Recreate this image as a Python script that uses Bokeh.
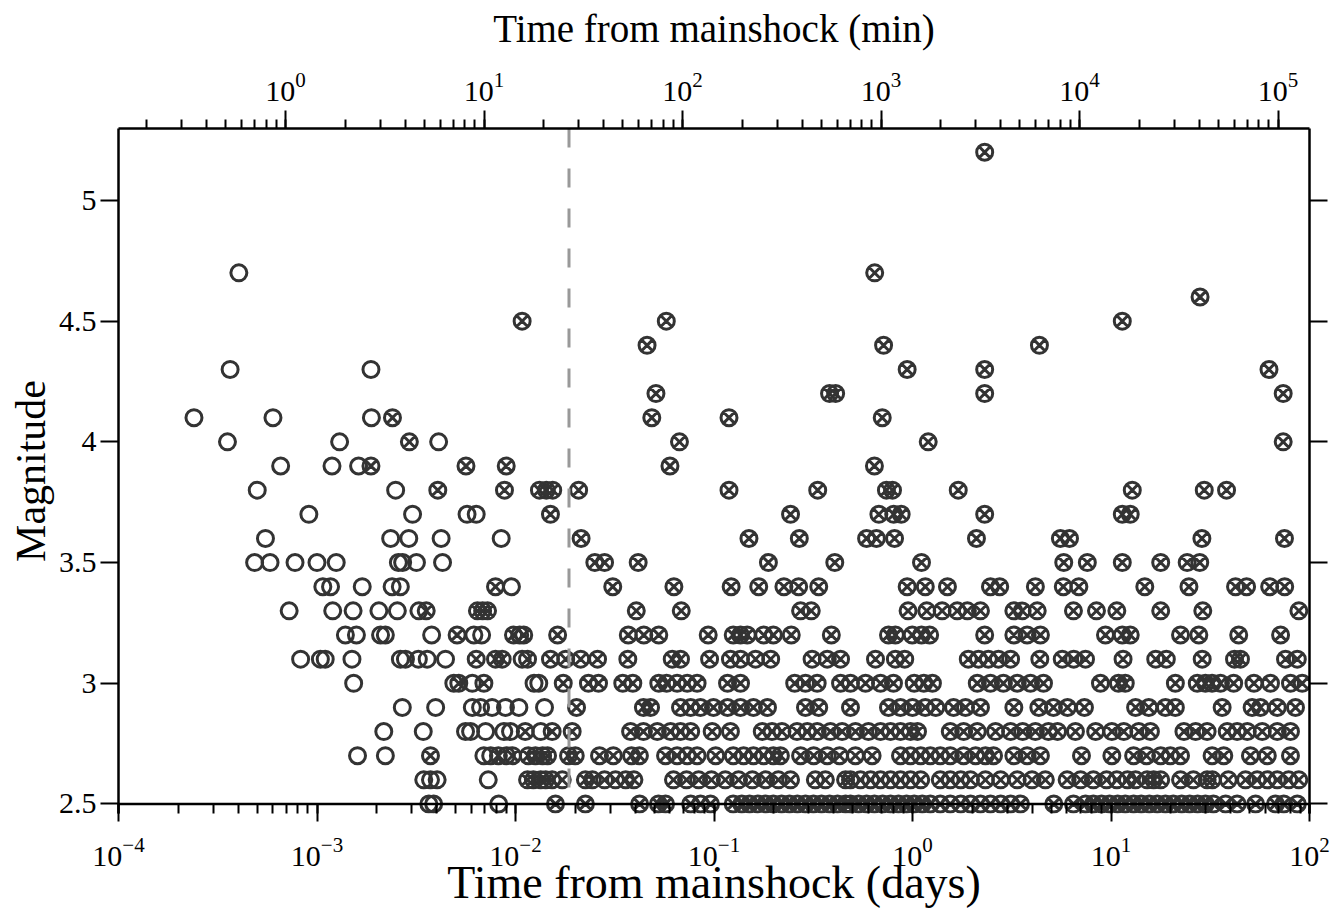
from bokeh.plotting import figure
from bokeh.models import (Range1d, LogScale, LogAxis, LinearAxis, FixedTicker,
                          LogTicker, CustomJSTickFormatter, Span)
from bokeh.embed import file_html
from bokeh.resources import INLINE

# ---------------- data (time in days, magnitude) ----------------
# open circles, by magnitude level
OPEN_47 = [4.04e-4]
OPEN_43 = [3.65e-4, 1.87e-3]
OPEN_41 = [2.4e-4, 6.0e-4, 1.88e-3]
OPEN_40 = [3.54e-4, 1.3e-3, 4.1e-3]
OPEN_39 = [6.56e-4, 1.19e-3, 1.62e-3]
OPEN_38 = [5.0e-4, 2.49e-3]
OPEN_37 = [9.1e-4, 3.03e-3, 5.7e-3, 6.34e-3]
OPEN_36 = [5.5e-4, 2.35e-3, 2.9e-3, 4.22e-3, 8.47e-3]
OPEN_35 = [4.85e-4, 5.8e-4, 7.75e-4, 1.0e-3, 1.25e-3, 2.57e-3, 2.7e-3, 3.17e-3, 4.29e-3]
OPEN_34 = [1.07e-3, 1.17e-3, 1.69e-3, 2.39e-3, 2.63e-3, 9.54e-3]
OPEN_33 = [7.24e-4, 1.2e-3, 1.52e-3, 2.05e-3, 2.54e-3, 3.26e-3]
OPEN_32 = [1.39e-3, 1.58e-3, 2.09e-3, 2.21e-3, 3.78e-3, 6.17e-3, 6.75e-3, 1.05e-2]
OPEN_31 = [8.27e-4, 1.04e-3, 1.10e-3, 1.50e-3, 2.63e-3, 2.79e-3, 3.24e-3, 3.59e-3,
           4.44e-3, 1.08e-2]
OPEN_30 = [1.53e-3, 4.89e-3, 6.06e-3, 1.24e-2, 1.31e-2]
OPEN_29 = [2.69e-3, 3.96e-3, 6.06e-3, 6.67e-3, 7.62e-3, 8.9e-3, 1.04e-2, 1.4e-2]
OPEN_28 = [2.17e-3, 3.43e-3, 5.6e-3, 5.94e-3, 7.07e-3, 8.73e-3, 9.44e-3, 1.34e-2]
OPEN_27 = [1.6e-3, 2.21e-3, 6.93e-3, 7.5e-3, 9.0e-3]
OPEN_26 = [3.45e-3, 3.73e-3, 4.03e-3, 7.29e-3]
OPEN_25 = [3.66e-3, 3.87e-3, 8.23e-3]

# crossed circles, by magnitude level
CROSS_52 = [2.31]
CROSS_47 = [0.645]
CROSS_46 = [28.1]
CROSS_45 = [0.0108, 0.0575, 11.4]
CROSS_44 = [0.046, 0.715, 4.36]
CROSS_43 = [0.94, 2.31, 62.5]
CROSS_42 = [0.051, 0.382, 0.41, 2.31, 73.7]
CROSS_41 = [2.4e-3, 0.0486, 0.119, 0.704]
CROSS_40 = [2.92e-3, 0.067, 1.2, 73.7]
CROSS_39 = [1.87e-3, 5.63e-3, 8.98e-3, 0.060, 0.643]
CROSS_38 = [4.06e-3, 8.8e-3, 0.0132, 0.0143, 0.0154, 0.0208, 0.119, 0.333, 0.739,
            0.793, 1.70, 12.8, 29.5, 38.2]
CROSS_37 = [0.015, 0.243, 0.677, 0.804, 0.877, 2.31, 11.4, 12.5]
CROSS_36 = [0.0214, 0.150, 0.269, 0.587, 0.658, 0.812, 2.10, 5.56, 6.18, 28.7, 74.8]
CROSS_35 = [0.0251, 0.0281, 0.0415, 0.188, 0.406, 1.11, 5.78, 7.6, 11.4, 17.8, 24.2,
            28.0]
CROSS_34 = [7.93e-3, 0.0309, 0.0628, 0.122, 0.168, 0.225, 0.267, 0.337, 0.94, 1.16,
            1.50, 2.47, 2.75, 4.16, 5.75, 6.89, 14.8, 24.7, 42.4, 48.2, 63.0, 75.0]
CROSS_33 = [3.55e-3, 6.43e-3, 6.83e-3, 7.23e-3, 0.0406, 0.0684, 0.273, 0.309, 0.95,
            1.18, 1.41, 1.68, 1.89, 2.20, 3.24, 3.57, 4.25, 6.47, 8.45, 10.7, 17.8,
            29.0, 88.4]
CROSS_32 = [5.08e-3, 9.77e-3, 0.011, 0.0163, 0.037, 0.0443, 0.0527, 0.0935, 0.125,
            0.136, 0.147, 0.178, 0.199, 0.245, 0.390, 0.757, 0.820, 0.997, 1.11, 1.22,
            2.31, 3.24, 3.78, 4.41, 9.38, 11.4, 12.5, 22.4, 27.7, 44.0, 71.5]
CROSS_31 = [6.34e-3, 7.93e-3, 8.57e-3, 0.0115, 0.015, 0.0179, 0.0213, 0.0259, 0.0368,
            0.0616, 0.0678, 0.095, 0.121, 0.136, 0.162, 0.193, 0.312, 0.372, 0.434,
            0.651, 0.82, 0.914, 1.91, 2.15, 2.41, 2.71, 3.12, 4.38, 5.68, 6.49, 7.44,
            11.5, 16.8, 19.0, 28.8, 41.9, 44.9, 75.7, 86.8]
CROSS_30 = [5.18e-3, 6.93e-3, 0.0174, 0.0233, 0.0262, 0.0347, 0.039, 0.0527, 0.0577,
            0.0652, 0.0733, 0.0822, 0.117, 0.136, 0.255, 0.289, 0.331, 0.434, 0.487,
            0.580, 0.690, 0.802, 1.02, 1.14, 1.26, 2.12, 2.47, 2.87, 3.37, 3.93, 4.57,
            8.85, 10.9, 11.8, 21.1, 27.2, 29.9, 32.3, 35.6, 41.5, 52.5, 63.6, 80.2,
            91.9]
CROSS_29 = [0.0203, 0.0441, 0.0479, 0.0678, 0.0763, 0.0855, 0.0994, 0.117, 0.136,
            0.158, 0.186, 0.289, 0.337, 0.487, 0.757, 0.870, 1.00, 1.16, 1.31, 1.61,
            1.85, 2.20, 3.24, 4.33, 5.13, 6.04, 7.35, 13.3, 15.5, 18.8, 21.1, 36.3,
            51.4, 56.6, 68.8, 85.0]
CROSS_28 = [0.0112, 0.0153, 0.0193, 0.038, 0.0441, 0.0518, 0.0604, 0.0678, 0.0763,
            0.0979, 0.121, 0.175, 0.196, 0.220, 0.262, 0.295, 0.331, 0.386, 0.442,
            0.516, 0.600, 0.690, 0.775, 0.870, 0.977, 1.06, 1.55, 1.81, 2.12, 2.62,
            3.12, 3.59, 4.16, 4.84, 5.38, 6.62, 8.37, 10.1, 11.6, 13.8, 15.8, 23.3,
            26.7, 30.5, 38.5, 43.2, 48.6, 57.8, 68.8, 80.2]
CROSS_27 = [3.73e-3, 8.2e-3, 9.66e-3, 0.0116, 0.0126, 0.0137, 0.0145, 0.0185, 0.020,
            0.0265, 0.0311, 0.0384, 0.0421, 0.057, 0.0652, 0.0733, 0.0822, 0.102,
            0.125, 0.141, 0.158, 0.178, 0.199, 0.216, 0.273, 0.318, 0.372, 0.429,
            0.516, 0.626, 0.870, 0.977, 1.10, 1.23, 1.38, 1.55, 1.81, 2.08, 2.33,
            2.56, 3.24, 3.78, 4.41, 7.10, 10.1, 13.0, 15.1, 17.8, 19.9, 22.4, 32.3,
            37.0, 50.4, 61.3, 80.2]
CROSS_26 = [0.0115, 0.0123, 0.0134, 0.0142, 0.0153, 0.0172, 0.0225, 0.0244, 0.0281,
            0.0319, 0.0359, 0.0395, 0.0625, 0.0727, 0.0837, 0.0971, 0.114, 0.133,
            0.156, 0.182, 0.211, 0.243, 0.324, 0.364, 0.460, 0.487, 0.547, 0.615,
            0.690, 0.775, 0.870, 0.977, 1.10, 1.38, 1.55, 1.75, 1.96, 2.33, 2.78,
            3.37, 4.00, 4.67, 6.01, 7.03, 8.15, 9.50, 10.7, 12.1, 13.3, 15.2, 16.4,
            17.8, 22.4, 26.0, 30.5, 32.4, 39.0, 47.6, 54.5, 61.3, 68.8, 78.5, 88.4]
CROSS_25 = [0.0159, 0.0225, 0.0422, 0.0525, 0.057, 0.0763, 0.0855, 0.096, 0.125,
            0.138, 0.151, 0.166, 0.182, 0.199, 0.219, 0.240, 0.263, 0.289, 0.317,
            0.348, 0.382, 0.419, 0.460, 0.487, 0.535, 0.587, 0.643, 0.707, 0.775,
            0.850, 0.933, 1.02, 1.12, 1.23, 1.38, 1.55, 1.75, 1.96, 2.20, 2.47, 2.78,
            3.12, 3.50, 5.15, 6.47, 7.44, 8.15, 8.96, 9.83, 10.8, 11.8, 13.0, 14.2,
            15.6, 17.1, 18.8, 20.6, 22.7, 24.9, 27.3, 29.9, 32.8, 37.8, 43.2, 53.5,
            67.4, 74.2, 86.8]

OPEN_ROWS = [(4.7, OPEN_47), (4.3, OPEN_43), (4.1, OPEN_41), (4.0, OPEN_40),
             (3.9, OPEN_39), (3.8, OPEN_38), (3.7, OPEN_37), (3.6, OPEN_36),
             (3.5, OPEN_35), (3.4, OPEN_34), (3.3, OPEN_33), (3.2, OPEN_32),
             (3.1, OPEN_31), (3.0, OPEN_30), (2.9, OPEN_29), (2.8, OPEN_28),
             (2.7, OPEN_27), (2.6, OPEN_26), (2.5, OPEN_25)]
CROSS_ROWS = [(5.2, CROSS_52), (4.7, CROSS_47), (4.6, CROSS_46), (4.5, CROSS_45),
              (4.4, CROSS_44), (4.3, CROSS_43), (4.2, CROSS_42), (4.1, CROSS_41),
              (4.0, CROSS_40), (3.9, CROSS_39), (3.8, CROSS_38), (3.7, CROSS_37),
              (3.6, CROSS_36), (3.5, CROSS_35), (3.4, CROSS_34), (3.3, CROSS_33),
              (3.2, CROSS_32), (3.1, CROSS_31), (3.0, CROSS_30), (2.9, CROSS_29),
              (2.8, CROSS_28), (2.7, CROSS_27), (2.6, CROSS_26), (2.5, CROSS_25)]

MAG_TICKS = [2.5, 3.0, 3.5, 4.0, 4.5, 5.0]
DASH_DAYS = 0.0186          # vertical dashed marker
MIN_PER_DAY = 1440.0
X_START, X_END = 1e-4, 1e2
Y_BOTTOM, Y_TOP = 2.5, 5.298


def flatten(rows):
    xs, ys = [], []
    for mag, times in rows:
        xs.extend(times)
        ys.extend([mag] * len(times))
    return xs, ys


open_x, open_y = flatten(OPEN_ROWS)
cross_x, cross_y = flatten(CROSS_ROWS)

FONT = "Liberation Serif"
INK = "#333333"
PAD = 0.0394   # small margin below the 2.5 baseline so markers are not clipped

p = figure(width=1340, height=914, x_axis_type="log",
           x_range=Range1d(X_START, X_END),
           y_range=Range1d(Y_BOTTOM - PAD, Y_TOP),
           output_backend="svg", toolbar_location=None,
           min_border_left=118, min_border_right=31,
           min_border_top=128, min_border_bottom=101)
p.grid.visible = False
p.outline_line_color = None
p.background_fill_color = "white"
p.border_fill_color = "white"

def style_axis(ax, label_px="42px"):
    ax.axis_line_color = "black"
    ax.axis_line_width = 2.5
    ax.major_tick_line_color = "black"
    ax.major_tick_line_width = 2
    ax.minor_tick_line_color = "black"
    ax.minor_tick_line_width = 2
    ax.major_label_text_font = FONT
    ax.major_label_text_font_size = "30px"
    ax.major_label_text_color = "black"
    ax.axis_label_text_font = FONT
    ax.axis_label_text_font_size = label_px
    ax.axis_label_text_font_style = "normal"
    ax.axis_label_text_color = "black"

# bottom axis (days)
xb = p.xaxis[0]
style_axis(xb, "46px")
xb.ticker = LogTicker(num_minor_ticks=10)
xb.axis_label = "Time from mainshock (days)"
xb.axis_line_color = None
xb.major_tick_in = 10
xb.major_tick_out = 8
xb.minor_tick_in = 10
xb.minor_tick_out = 0
xb.major_label_standoff = 16
xb.axis_label_standoff = -12

# left axis
yl = p.yaxis[0]
style_axis(yl, "42px")
yl.ticker = FixedTicker(ticks=MAG_TICKS)
yl.formatter = CustomJSTickFormatter(code="return String(tick);")
yl.axis_label = "Magnitude"
yl.major_tick_in = 0
yl.major_tick_out = 18
yl.minor_tick_out = 0
yl.major_label_standoff = 4
yl.axis_label_standoff = 2

# right axis (ticks only)
yr = LinearAxis(ticker=FixedTicker(ticks=MAG_TICKS),
                formatter=CustomJSTickFormatter(code="return '';"))
style_axis(yr)
yr.major_tick_in = 0
yr.major_tick_out = 18
yr.minor_tick_out = 0
p.add_layout(yr, "right")

# top axis (minutes)
p.extra_x_ranges = {"min": Range1d(X_START * MIN_PER_DAY, X_END * MIN_PER_DAY)}
p.extra_x_scales = {"min": LogScale()}
xt = LogAxis(x_range_name="min", ticker=LogTicker(num_minor_ticks=10),
             axis_label="Time from mainshock (min)")
style_axis(xt, "39px")
xt.major_tick_in = 0
xt.major_tick_out = 18
xt.minor_tick_in = 0
xt.minor_tick_out = 9
xt.major_label_standoff = 10
xt.axis_label_standoff = 20
p.add_layout(xt, "above")

# baseline at magnitude 2.5
p.add_layout(Span(location=Y_BOTTOM, dimension="width", line_color="black",
                  line_width=2.5))

p.scatter(open_x, open_y, marker="circle", size=16, fill_color=None,
          line_color=INK, line_width=3)
p.scatter(cross_x, cross_y, marker="circle_x", size=16, fill_color=None,
          line_color=INK, line_width=3)

p.segment(x0=[DASH_DAYS], y0=[Y_TOP], x1=[DASH_DAYS], y1=[Y_BOTTOM],
          line_color="#999999", line_width=3, line_dash="19 21")

open("out.html", "w").write(file_html(p, INLINE))
